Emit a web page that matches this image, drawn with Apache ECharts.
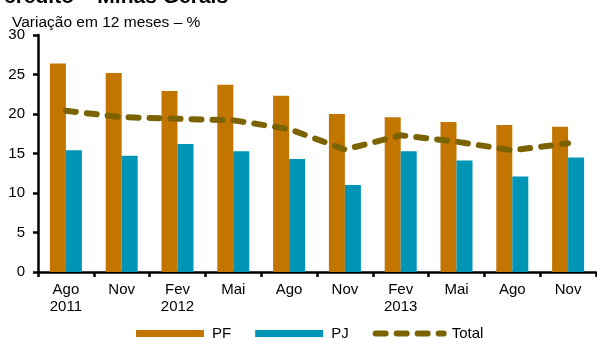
<!DOCTYPE html>
<html><head><meta charset="utf-8">
<script src="https://cdn.jsdelivr.net/npm/echarts@6/dist/echarts.min.js"></script>
<style>html,body{margin:0;padding:0;background:#fff}#c{width:597px;height:338px}</style>
</head><body><div id="c"></div>
<script>
var categories = ['Ago\n2011','Nov','Fev\n2012','Mai','Ago','Nov','Fev\n2013','Mai','Ago','Nov'];
var pf = [26.4, 25.2, 22.9, 23.7, 22.3, 20.0, 19.6, 19.0, 18.6, 18.4];
var pj = [15.4, 14.7, 16.2, 15.3, 14.3, 11.0, 15.3, 14.1, 12.1, 14.5];
var total = [20.4, 19.6, 19.4, 19.2, 18.1, 15.5, 17.3, 16.5, 15.4, 16.3];
var yTicks = [0, 5, 10, 15, 20, 25, 30];

var FONT = 'Liberation Sans, Arial, sans-serif';
var chart = echarts.init(document.getElementById('c'));
chart.setOption({
  animation: false,
  textStyle: {fontFamily: FONT},
  title: [
    {text: 'crédito – Minas Gerais', left: -1, top: -18,
     textStyle: {fontSize: 21, fontWeight: 'bold', color: '#000', fontFamily: FONT}},
    {text: 'Variação em 12 meses – %', left: 7, top: 10,
     textStyle: {fontSize: 15.5, fontWeight: 'normal', color: '#000', fontFamily: FONT}}
  ],
  grid: {left: 38, right: 1, top: 35, bottom: 66, containLabel: false},
  legend: {
    bottom: -3, left: 136, padding: 0, itemGap: 24, itemWidth: 68, itemHeight: 7,
    textStyle: {fontSize: 15, color: '#000', padding: [0, 0, 0, 3]},
    data: [
      {name: 'PF', icon: 'rect'},
      {name: 'PJ', icon: 'rect'},
      {name: 'Total', itemStyle: {color: 'rgba(0,0,0,0)', borderWidth: 0},
       lineStyle: {color: '#7A6300', width: 6, type: [10, 11], cap: 'round'}}
    ]
  },
  xAxis: {
    type: 'category', data: categories,
    axisLine: {lineStyle: {color: '#000', width: 2.5}},
    axisTick: {show: true, length: 5, lineStyle: {color: '#000', width: 2.5}},
    axisLabel: {color: '#000', fontSize: 15, lineHeight: 17, margin: 9, interval: 0}
  },
  yAxis: {
    type: 'value', min: 0, max: 30, interval: 5,
    axisLine: {show: true, lineStyle: {color: '#000', width: 2.5}},
    axisTick: {show: true, length: 5, lineStyle: {color: '#000', width: 2.5}},
    splitLine: {show: false},
    axisLabel: {color: '#000', fontSize: 15, margin: 13,
      formatter: function (v) { return yTicks.indexOf(v) >= 0 ? String(v) : ''; }}
  },
  series: [
    {name: 'PF', type: 'bar', data: pf, barWidth: 16, barGap: '0%',
     itemStyle: {color: '#C27600'}},
    {name: 'PJ', type: 'bar', data: pj, barWidth: 16, barGap: '0%',
     itemStyle: {color: '#0094B6'}},
    {name: 'Total', type: 'line', data: total, symbol: 'none', z: 5,
     lineStyle: {color: '#7A6300', width: 6, type: [10, 11], cap: 'round'},
     itemStyle: {color: '#7A6300'}}
  ]
});
</script></body></html>
